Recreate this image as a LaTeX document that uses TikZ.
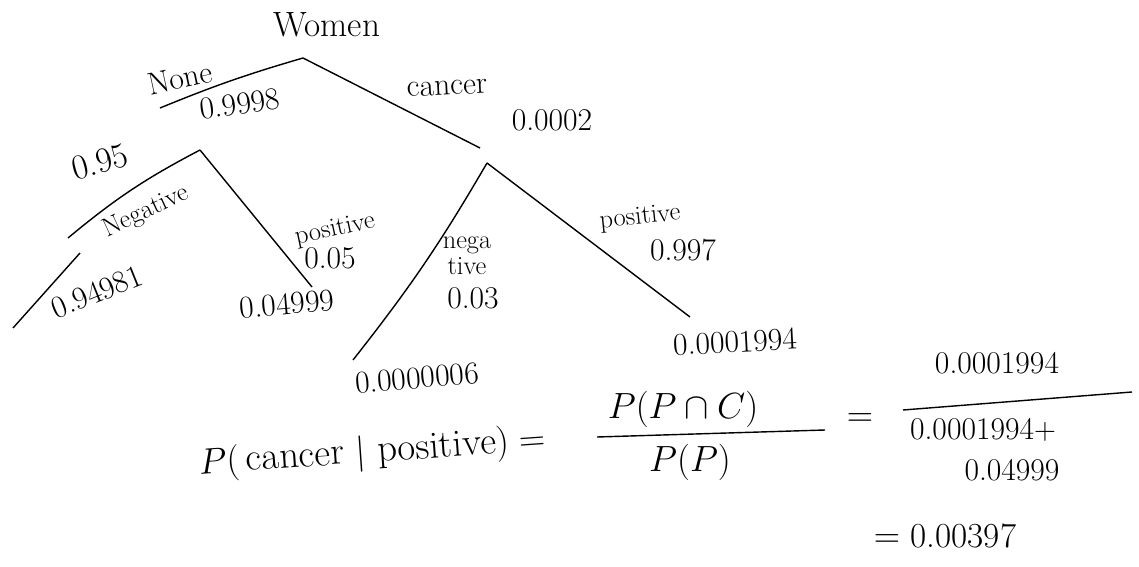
\documentclass[tikz,border=0pt]{standalone}
\usetikzlibrary{positioning}
\begin{document}
\begin{tikzpicture}[x=0.02cm, y=-0.02cm, every node/.style={font=\fontsize{18}{22}\selectfont, inner sep=1pt}, branch/.style={line width=0.8pt}, big/.style={font=\fontsize{20}{24}\selectfont}, small/.style={font=\fontsize{15}{15}\selectfont}]
        \useasboundingbox (0,0) rectangle (1139,567);

        % Define the points of the tree
        \coordinate (root) at (303,58);
        \coordinate (noneEnd) at (160,108);
        \coordinate (cancerEnd) at (480,148);
        \coordinate (n) at (200,150);
        \coordinate (c) at (487,163);
        \coordinate (nNegA) at (68,238);
        \coordinate (nNegB) at (80,253);
        \coordinate (nNegEnd) at (13,328);
        \coordinate (nPosEnd) at (312,287);
        \coordinate (cNegEnd) at (353,360);
        \coordinate (cPosEnd) at (690,317);

        % Draw the branches
        \draw[branch] (root) to[bend right=3] (noneEnd);
        \draw[branch] (root) -- (cancerEnd);
        \draw[branch] (n) to[bend right=6] (nNegA);
        \draw[branch] (nNegB) -- (nNegEnd);
        \draw[branch] (n) -- (nPosEnd);
        \draw[branch] (c) to[bend left=4] (cNegEnd);
        \draw[branch] (c) -- (cPosEnd);

        % Labels of the first level
        \node[big] (women) at (327,25) {Women};
        \node[rotate=12] (none) at (180,78) {None};
        \node[rotate=8] (pNone) at (240,104) {0.9998};
        \node[rotate=3] (cancer) at (447,88) {cancer};
        \node (pCancer) at (552,120) {0.0002};

        % Labels below None
        \node[big, rotate=15] (pNeg) at (100,162) {0.95};
        \node[small, rotate=25] (neg) at (146,212) {Negative};
        \node[small, rotate=12] (pos) at (335,230) {positive};
        \node (pPos) at (330,258) {0.05};
        \node[rotate=22] (nNeg) at (97,292) {0.94981};
        \node[rotate=5] (nPos) at (287,304) {0.04999};

        % Labels below cancer
        \node[small, align=center, inner sep=0pt] (cneg) at (467,256) {nega\\tive};
        \node (pCneg) at (473,298) {0.03};
        \node[small, rotate=6] (cpos) at (640,218) {positive};
        \node (pCpos) at (683,250) {0.997};
        \node[rotate=5] (cNeg) at (417,378) {0.0000006};
        \node[rotate=3] (cPos) at (735,342) {0.0001994};

        % Bayes rule
        \node[font=\fontsize{22}{26}\selectfont, rotate=4] (bayes) at (372,453) {$P($\,cancer $\mid$ positive$)=$};
        \node[big] (num) at (683,409) {$P(P\cap C)$};
        \coordinate (barAl) at (597,437);
        \coordinate (barAr) at (825,430);
        \draw[branch] (barAl) -- (barAr);
        \node[big] (den) at (690,462) {$P(P)$};

        \node[big] (eq) at (860,420) {$=$};
        \node (numB) at (997,363) {0.0001994};
        \coordinate (barBl) at (903,410);
        \coordinate (barBr) at (1132,392);
        \draw[branch] (barBl) -- (barBr);
        \node (denB) at (983,430) {0.0001994$+$};
        \node (denC) at (1012,470) {0.04999};

        \node[big] (result) at (945,536) {$=$ 0.00397};
      \end{tikzpicture}
\end{document}
